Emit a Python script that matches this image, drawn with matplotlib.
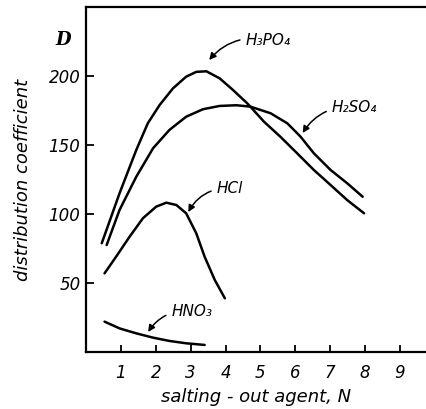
import matplotlib
matplotlib.use("Agg")
import matplotlib.pyplot as plt

# distribution coefficient D vs. concentration of salting-out agent (N)
h3po4_x = [0.45, 0.96, 1.44, 1.77, 2.11, 2.49, 2.87, 3.16, 3.45, 3.83, 4.21, 4.60,
           4.71, 5.10, 5.57, 6.05, 6.53, 7.01, 7.49, 7.97]
h3po4_y = [78.8, 115.0, 146.4, 165.7, 179.0, 191.0, 199.5, 203.0, 203.4, 198.3, 189.9, 180.7,
           177.8, 166.9, 156.0, 144.0, 131.9, 121.0, 110.0, 100.5]

h2so4_x = [0.59, 0.96, 1.44, 1.92, 2.39, 2.87, 3.35, 3.83, 4.31, 4.71, 5.29, 5.77,
           6.15, 6.53, 7.01, 7.49, 7.93]
h2so4_y = [77.5, 102.9, 127.0, 147.6, 160.9, 170.5, 175.9, 178.3, 178.8, 177.8, 173.0, 165.7,
           156.0, 144.0, 131.9, 122.2, 112.5]

hcl_x = [0.53, 0.86, 1.25, 1.63, 2.01, 2.30, 2.59, 2.87, 3.16, 3.40, 3.69, 3.98]
hcl_y = [57.0, 69.0, 83.6, 96.9, 105.3, 108.2, 106.5, 100.5, 86.0, 69.0, 52.2, 38.9]

hno3_x = [0.53, 0.96, 1.44, 1.92, 2.39, 2.87, 3.40]
hno3_y = [22.0, 17.1, 13.5, 10.4, 8.0, 6.3, 5.1]

x_ticks = [1, 2, 3, 4, 5, 6, 7, 8, 9]
y_ticks = [50, 100, 150, 200]

# curve labels: text, label position, arrow tip
labels = [
    ("H₃PO₄", (4.57, 226.0), (3.53, 211.6)),
    ("H₂SO₄", (7.04, 177.5), (6.21, 158.7)),
    ("HCl", (3.74, 118.8), (2.93, 101.4)),
    ("HNO₃", (2.44, 29.7), (1.78, 14.5)),
]

fig = plt.figure(figsize=(4.26, 4.09), dpi=100)
ax = fig.add_axes([0.202, 0.1394, 0.800, 0.8435])

for xs, ys in [(h3po4_x, h3po4_y), (h2so4_x, h2so4_y), (hcl_x, hcl_y), (hno3_x, hno3_y)]:
    ax.plot(xs, ys, color="black", lw=1.8, solid_capstyle="round")

for txt, pos, tip in labels:
    ax.annotate(txt, xy=tip, xytext=pos, ha="left", va="center",
                fontsize=11, style="italic",
                arrowprops=dict(arrowstyle="-|>", color="black", lw=1.1,
                                mutation_scale=10, shrinkA=2, shrinkB=0,
                                connectionstyle="arc3,rad=0.3"))

ax.set_xlim(0, 9.77)
ax.set_ylim(0, 250)
ax.set_xticks(x_ticks)
ax.set_yticks(y_ticks)
ax.tick_params(axis="x", direction="in", length=5, width=1.3, pad=9, labelsize=12)
ax.tick_params(axis="y", direction="in", length=6, width=1.3, pad=4, labelsize=12)
for lab in ax.get_xticklabels() + ax.get_yticklabels():
    lab.set_style("italic")

ax.spines["right"].set_visible(False)
for s in ["left", "bottom", "top"]:
    ax.spines[s].set_linewidth(1.6)

ax.text(-0.068, 0.904, "D", transform=ax.transAxes, ha="center", va="center",
        fontsize=13, style="italic", fontweight="bold", family="DejaVu Serif")

ax.set_xlabel("salting - out agent, N", fontsize=13, style="italic", labelpad=4)
ax.set_ylabel("distribution coefficient", fontsize=13, style="italic", labelpad=12)

fig.savefig("out.png", dpi=100)
